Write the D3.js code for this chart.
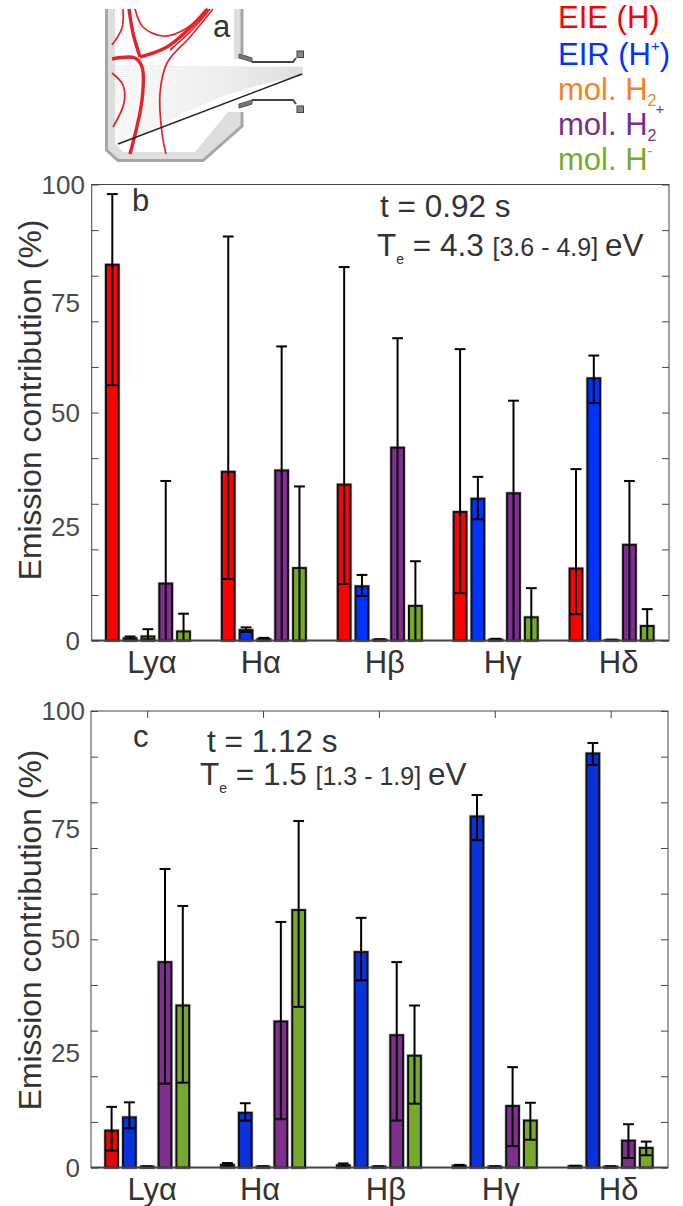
<!DOCTYPE html>
<html>
<head>
<meta charset="utf-8">
<script src="https://cdn.jsdelivr.net/npm/d3@7"></script>
<style>
html, body { margin: 0; padding: 0; background: #fff; }
svg { display: block; }
text { font-family: "Liberation Sans", Arial, sans-serif; }
</style>
</head>
<body>
<div id="chart"></div>
<script>
// lines, one per category
var lines = ["Lyα", "Hα", "Hβ", "Hγ", "Hδ"];
var seriesColors = ["#ff0000", "#0033ff", "#e8a62c", "#7f2f8e", "#76a92c"];
var yTickValues = [0, 10, 20, 30, 40, 50, 60, 70, 80, 90, 100];
var yLabelValues = [0, 25, 50, 75, 100];

// panel b, t = 0.92 s. rows are EIE, EIR, mol H2, mol H2+, mol H-
var bValues = [
    [82.4, 37.0, 34.2, 28.2, 15.8],
    [0.5, 2.3, 11.9, 31.1, 57.5],
    [0.9, 0.3, 0.2, 0.2, 0.1],
    [12.5, 37.3, 42.3, 32.3, 21.0],
    [2.0, 15.9, 7.6, 5.1, 3.2]
];
var bUpper = [
    [97.9, 88.6, 81.9, 63.9, 37.6],
    [0.9, 2.9, 14.4, 35.9, 62.5],
    [2.5, 0.6, 0.3, 0.4, 0.2],
    [35.0, 64.5, 66.3, 52.6, 35.0],
    [5.9, 33.8, 17.4, 11.5, 6.9]
];
var bLower = [
    [56.0, 13.5, 12.4, 10.4, 5.8],
    [0.2, 1.9, 9.8, 26.6, 52.1],
    [0.3, 0.1, 0.1, 0.1, 0],
    [0, 0, 0, 0, 0],
    [0, 0, 0, 0, 0]
];

// panel c, t = 1.12 s
var cValues = [
    [8.1, 0.6, 0.5, 0.4, 0.3],
    [11.0, 12.0, 47.2, 76.9, 90.7],
    [0.2, 0.2, 0.2, 0.2, 0.2],
    [45.0, 32.0, 29.0, 13.5, 5.9],
    [35.5, 56.4, 24.5, 10.3, 4.3]
];
var cUpper = [
    [13.3, 1.0, 0.9, 0.6, 0.4],
    [14.3, 14.1, 54.7, 81.6, 93.0],
    [0.3, 0.3, 0.3, 0.3, 0.3],
    [65.4, 53.8, 45.0, 22.0, 9.5],
    [57.3, 75.9, 35.5, 14.2, 5.7]
];
var cLower = [
    [3.7, 0.3, 0.2, 0.2, 0.2],
    [8.6, 10.3, 41.0, 71.7, 88.2],
    [0.1, 0.1, 0.1, 0.1, 0.1],
    [18.4, 10.6, 10.3, 4.7, 2.1],
    [18.6, 35.2, 14.0, 6.1, 2.7]
];

var width = 683, height = 1206;
var textColor = "#333";
var axisColor = "#444";

var svg = d3.select("#chart").append("svg")
    .attr("width", width)
    .attr("height", height);

var groupStep = 0.1536;   // distance between bars of one group, in category units
var barWidth = 0.11;

function drawPanel(opts) {
    var x = d3.scaleLinear().domain([0.515, 5.495]).range([opts.left, opts.right]);
    var y = d3.scaleLinear().domain([0, 100]).range([opts.bottom, opts.top]);
    var g = svg.append("g");

    opts.values.forEach(function (row, s) {
        var bx = function (d, i) { return x(i + 1 + (s - 2) * groupStep - barWidth / 2); };
        var bw = x(barWidth) - x(0);

        // pale halo round the bars, the reference is a resampled bitmap
        g.append("g").selectAll("rect").data(row).enter().append("rect")
            .attr("x", bx).attr("width", bw)
            .attr("y", function (d) { return y(d); })
            .attr("height", function (d) { return y(0) - y(d); })
            .attr("fill", "none").attr("stroke", "#c4c4c4").attr("stroke-width", 3.4);

        g.append("g").selectAll("rect").data(row).enter().append("rect")
            .attr("x", bx).attr("width", bw)
            .attr("y", function (d) { return y(d); })
            .attr("height", function (d) { return y(0) - y(d); })
            .attr("fill", opts.colors[s]).attr("stroke", "#111").attr("stroke-width", 2);
    });

    opts.values.forEach(function (row, s) {
        var cx = function (i) { return x(i + 1 + (s - 2) * groupStep); };
        var eg = g.append("g").attr("stroke", "#000").attr("stroke-width", 2);
        row.forEach(function (d, i) {
            var up = opts.upper[s][i], lo = opts.lower[s][i];
            eg.append("line").attr("x1", cx(i)).attr("x2", cx(i)).attr("y1", y(up)).attr("y2", y(lo));
            eg.append("line").attr("x1", cx(i) - 5.4).attr("x2", cx(i) + 5.4).attr("y1", y(up)).attr("y2", y(up));
            if (lo > 0) {
                eg.append("line").attr("x1", cx(i) - 5.4).attr("x2", cx(i) + 5.4).attr("y1", y(lo)).attr("y2", y(lo));
            }
        });
    });

    // box and inward ticks
    g.append("rect")
        .attr("x", opts.left).attr("y", opts.top)
        .attr("width", opts.right - opts.left).attr("height", opts.bottom - opts.top)
        .attr("fill", "none").attr("stroke", axisColor).attr("stroke-width", 1);
    g.append("line")
        .attr("x1", opts.left).attr("x2", opts.right)
        .attr("y1", opts.bottom).attr("y2", opts.bottom)
        .attr("stroke", axisColor).attr("stroke-width", 2);

    var leftAxis = d3.axisLeft(y).tickValues(yTickValues).tickSize(-7).tickFormat("");
    var rightAxis = d3.axisRight(y).tickValues(yTickValues).tickSize(-7).tickFormat("");
    [[leftAxis, opts.left], [rightAxis, opts.right]].forEach(function (a) {
        var ag = g.append("g").attr("transform", "translate(" + a[1] + ",0)").call(a[0]);
        ag.select(".domain").remove();
        ag.selectAll("line").attr("stroke", axisColor);
    });

    if (opts.topTicks) {
        var topAxis = d3.axisTop(x).tickValues([1, 2, 3, 4, 5]).tickSize(-7).tickFormat("");
        var tg = g.append("g").attr("transform", "translate(0," + opts.top + ")").call(topAxis);
        tg.select(".domain").remove();
        tg.selectAll("line").attr("stroke", axisColor);
    }

    // y labels sit by hand in the original, 75 is a little low and 100 a little right
    g.selectAll(".ylab").data(yLabelValues).enter().append("text")
        .attr("class", "ylab")
        .attr("x", function (d) { return d === 100 ? 85 : 80; })
        .attr("y", function (d) { return y(d) + 9 + (d === 75 ? 4 : 0); })
        .attr("text-anchor", "end")
        .attr("font-size", 26)
        .attr("fill", "#4a4a4a")
        .text(function (d) { return d; });

    // x labels
    g.selectAll(".xlab").data(lines).enter().append("text")
        .attr("class", "xlab")
        .attr("x", function (d, i) { return x(i + 1) + opts.labelShift[i]; })
        .attr("y", opts.bottom + 32)
        .attr("text-anchor", "middle")
        .attr("font-size", 31)
        .attr("fill", textColor)
        .text(function (d) { return d; });

    g.append("text")
        .attr("transform", "translate(41," + opts.labelY + ") rotate(-90)")
        .attr("text-anchor", "middle")
        .attr("font-size", 31.8)
        .attr("fill", textColor)
        .text("Emission contribution (%)");

    g.append("text")
        .attr("x", opts.letterX).attr("y", opts.letterY)
        .attr("font-size", 31).attr("fill", textColor)
        .text(opts.letter);

    g.append("text")
        .attr("x", opts.timeX).attr("y", opts.timeY)
        .attr("font-size", 31.5).attr("fill", textColor)
        .text(opts.time);

    var te = g.append("text")
        .attr("x", opts.teX).attr("y", opts.teY)
        .attr("font-size", 31.5).attr("fill", textColor);
    te.append("tspan").text("T");
    te.append("tspan").attr("font-size", 14).attr("dy", 8).text("e");
    te.append("tspan").attr("dy", -8).text(" = " + opts.te + " ");
    te.append("tspan").attr("font-size", 25).text(opts.range + " ");
    te.append("tspan").text("eV");
}

drawPanel({
    top: 184.5, bottom: 640.6, left: 91.7, right: 669,
    values: bValues, upper: bUpper, lower: bLower,
    colors: seriesColors,
    labelShift: [4, -3, 5, 7, 7],
    labelY: 400,
    letter: "b", letterX: 132, letterY: 211,
    time: "t = 0.92 s", timeX: 380, timeY: 217,
    te: "4.3", range: "[3.6 - 4.9]", teX: 377, teY: 256
});

drawPanel({
    top: 711, bottom: 1167.6, left: 91, right: 668,
    values: cValues, upper: cUpper, lower: cLower,
    colors: ["#e30808", "#0a32dc", "#e8a62c", "#7f2f8e", "#76a92c"],
    labelShift: [5, -3, 7, 6, 8],
    labelY: 930,
    letter: "c", letterX: 133, letterY: 747,
    time: "t = 1.12 s", timeX: 207, timeY: 752,
    te: "1.5", range: "[1.3 - 1.9]", teX: 200, teY: 785,
    topTicks: true
});

// legend, real text with raised and lowered bits
var legendRows = [
    { color: "#ff0000", base: "EIE (H)", y: 28 },
    { color: "#0033ff", base: "EIR (H", sup: "+", tail: ")", y: 65 },
    { color: "#f58220", base: "mol. H", sub: "2", y: 100 },
    { color: "#7b2d8e", base: "mol. H", sub: "2", subsup: "+", y: 135 },
    { color: "#76ac2e", base: "mol. H", sup: "-", y: 170 }
];
legendRows.forEach(function (r) {
    var t = svg.append("text")
        .attr("x", 558).attr("y", r.y)
        .attr("font-size", 31).attr("fill", r.color);
    t.append("tspan").text(r.base);
    if (r.sup) t.append("tspan").attr("font-size", 15).attr("dy", -14).text(r.sup);
    if (r.tail) t.append("tspan").attr("dy", 14).text(r.tail);
    if (r.sub) t.append("tspan").attr("font-size", 16).attr("dy", 6).text(r.sub);
    if (r.subsup) t.append("tspan").attr("font-size", 15).attr("dx", -1).attr("dy", -27).text(r.subsup);
});

// panel a, the machine cross section
var sk = svg.append("g");
var straight = d3.line();
var curved = d3.line().curve(d3.curveCatmullRom.alpha(0.5));

// walls
sk.append("path")
    .attr("d", straight([[106, 9], [106, 150], [118, 162], [203, 162], [243, 127], [243, 112], [228, 112], [195, 152], [123, 152], [115, 144], [115, 9]]) + "Z")
    .attr("fill", "#dedede");
sk.append("path")
    .attr("d", straight([[106.5, 9], [106.5, 150], [118, 160.5], [203, 160.5], [242, 126], [242, 112]]))
    .attr("fill", "none").attr("stroke", "#a6a6a6").attr("stroke-width", 3);
sk.append("path")
    .attr("d", straight([[234, 9], [243, 9], [243, 59], [234, 59]]) + "Z")
    .attr("fill", "#dedede");
sk.append("line")
    .attr("x1", 242).attr("x2", 242).attr("y1", 9).attr("y2", 54)
    .attr("stroke", "#a6a6a6").attr("stroke-width", 3);

// sight lines fanning out of the port
d3.range(0, 38).forEach(function (k) {
    var y0 = 66 + k * 2.25;
    var y1 = 67 + k * 0.22;
    sk.append("path")
        .attr("d", d3.line().curve(d3.curveBasis)([[115, y0], [215, y0 - (y0 - y1) * 0.75], [303, y1]]))
        .attr("fill", "none").attr("stroke", "#dcdcdc").attr("stroke-width", 0.5);
});

// separatrix and flux surfaces
var redThin = [
    [[123, 9], [122, 28], [112, 45]],
    [[135, 9], [143, 27], [163, 36], [187, 28], [206, 9]],
    [[213, 9], [190, 37], [167, 63], [160, 93], [162, 133], [166, 154]],
    [[112, 73], [123, 85], [124, 103], [113, 127]]
];
var redThick = [
    [[129, 9], [133, 33], [140, 57]],
    [[140, 57], [167, 47], [193, 25], [208, 9]],
    [[112, 59], [135, 58], [142, 67], [142, 100], [130, 154]]
];
redThin.forEach(function (p) {
    sk.append("path").attr("d", curved(p)).attr("fill", "none")
        .attr("stroke", "#e2232a").attr("stroke-width", 1.7);
});
redThick.forEach(function (p) {
    sk.append("path").attr("d", curved(p)).attr("fill", "none")
        .attr("stroke", "#e2232a").attr("stroke-width", 3.4);
});
sk.append("path").attr("d", curved([[170, 50], [193, 29], [210, 9]])).attr("fill", "none")
    .attr("stroke", "#e2232a").attr("stroke-width", 1.7);

sk.append("line")
    .attr("x1", 118).attr("y1", 144).attr("x2", 302).attr("y2", 74)
    .attr("stroke", "#222").attr("stroke-width", 1.4);

// diagnostic port, upper half and its mirror
[1, -1].forEach(function (m) {
    var py = function (v) { return m === 1 ? v : 162 - v; };
    sk.append("path")
        .attr("d", straight([[239, py(54)], [246, py(56)], [252, py(58)], [252, py(62)], [246, py(60)], [239, py(58)]]) + "Z")
        .attr("fill", "#777").attr("stroke", "#555").attr("stroke-width", 1);
    sk.append("path")
        .attr("d", straight([[252, py(62)], [293, py(62)], [296, py(58)]]))
        .attr("fill", "none").attr("stroke", "#444").attr("stroke-width", 2);
    sk.append("rect")
        .attr("x", 297).attr("y", m === 1 ? 51 : 106).attr("width", 6.5).attr("height", 6.5)
        .attr("fill", "#888").attr("stroke", "#444").attr("stroke-width", 1);
});

sk.append("text")
    .attr("x", 213).attr("y", 37)
    .attr("font-size", 31).attr("fill", textColor)
    .text("a");
</script>
</body>
</html>
